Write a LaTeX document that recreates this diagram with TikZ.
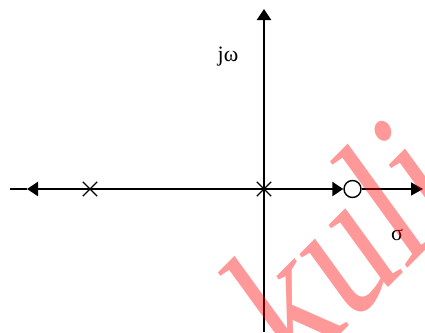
\documentclass[tikz,border=0pt]{standalone}
\usepackage{fontspec}
\setmainfont{Liberation Serif}
\usetikzlibrary{arrows.meta,shapes.misc}
\begin{document}
\begin{tikzpicture}[x=1pt,y=-1pt,
  axis/.style={line width=2.2pt},
  thinaxis/.style={line width=1.4pt},
  tip/.style={-{Triangle[length=11pt,width=14pt]}},
  smalltip/.style={-{Triangle[length=12pt,width=13pt]}},
  pole/.style={cross out,draw,line width=1.3pt,minimum size=13pt,inner sep=0pt},
  zero/.style={circle,draw,fill=white,line width=1.4pt,minimum size=17pt,inner sep=0pt},
  lbl/.style={font=\fontsize{22}{22}\selectfont,inner sep=0pt},
  wmark/.style={font=\fontsize{158}{158}\selectfont,text=red,text opacity=0.4,inner sep=0pt,anchor=base west,transform shape}]
\useasboundingbox (0,0) rectangle (425,332);
\begin{scope}
\clip (0,0) rectangle (425,332);
\coordinate (O) at (264,189);
\coordinate (L) at (10,189);
\coordinate (Lt) at (27,189);
\coordinate (T) at (264,9);
\coordinate (B) at (264,332);
\coordinate (R) at (423,189);
\node[zero] (Z) at (352.5,189) {};
\draw[axis] (B) -- (O);
\draw[axis,tip] (O) -- (T);
\draw[axis,tip] (O) -- (Lt);
\draw[axis] (Lt) -- (L);
\draw[axis,tip] (O) -- (Z.west);
\draw[thinaxis,smalltip] (Z.east) -- (R);
\node[pole] (P1) at (90,189) {};
\node[pole] (P0) at (264,189) {};
\node[lbl] (jw) at (228,57) {j\char"03C9};
\node[lbl] (sg) at (397,235) {\char"03C3};
\node[wmark,cm={0.707,0.707,-0.705,0.971,(0,0)}] (wm) at (293.7,382) {kuli};
\end{scope}
\end{tikzpicture}
\end{document}
